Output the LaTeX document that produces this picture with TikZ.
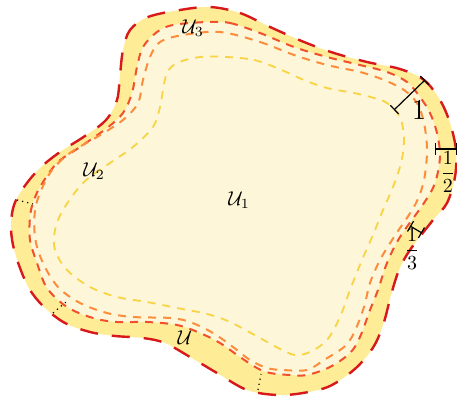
\documentclass[tikz,border=0pt]{standalone}
\usepackage{amsmath,amssymb}
\usepackage{xcolor}
\usepackage{tikz}
\usetikzlibrary{arrows.meta}
\definecolor{bandyellow}{HTML}{FFEC96}
\definecolor{coreyellow}{HTML}{FDF6D8}
\definecolor{edgered}{HTML}{D7191C}
\definecolor{thirdorange}{HTML}{F0502B}
\definecolor{halforange}{HTML}{FC8D3C}
\definecolor{oneyellow}{HTML}{F8D444}
\tikzset{
  outerline/.style={draw=edgered,line width=1.2pt,dash pattern=on 9pt off 7pt},
  thirdline/.style={draw=thirdorange,line width=1pt,dash pattern=on 4pt off 3.5pt},
  halfline/.style={draw=halforange,line width=1pt,dash pattern=on 4pt off 3.5pt},
  oneline/.style={draw=oneyellow,line width=0.9pt,dash pattern=on 4pt off 3.5pt},
  measurebar/.style={{Bar[width=6pt]}-{Bar[width=6pt]},line width=0.6pt},
  dotmark/.style={dotted,line width=0.6pt},
  regionlabel/.style={inner sep=1pt},
  blob/.style={smooth cycle,tension=0.55}
}
\begin{document}
\begin{tikzpicture}[x=0.5pt,y=-0.5pt]
  \useasboundingbox (0,0) rectangle (457,401);
  \fill[bandyellow] plot[blob] coordinates {
    (210,7) (240,13) (270,27) (304,42) (334,53) (367,62) (400,69) (424,80)
    (440,100) (450,123) (456,150) (455,177) (447,203) (433,220)
    (410,250) (399,270) (391,295) (384,322) (374,346) (356,368) (330,386)
    (303,393) (277,395) (247,390) (217,373) (190,357) (165,343) (143,338)
    (115,336) (90,332) (65,323) (45,308) (30,290) (20,268) (13,245) (11,225)
    (14,205) (24,187) (40,168) (60,152) (85,136) (106,120) (117,100) (120,75)
    (123,50) (130,30) (148,17) (180,10)};
  \fill[coreyellow] plot[blob] coordinates {
    (207,22) (230,23) (260,33) (294,47) (327,57) (360,65) (387,72) (407,82)
    (420,97) (430,113) (437,133) (440,157) (435,183) (424,203)
    (400,237) (387,263) (378,290) (370,310) (360,337) (350,353) (330,367)
    (307,375) (290,375) (270,373) (257,368) (240,357) (220,343) (200,333)
    (177,325) (147,322) (117,322) (93,318) (67,307) (47,288) (37,263) (30,240)
    (30,217) (33,203) (40,187) (57,163) (80,147) (107,128) (123,113) (132,93)
    (137,67) (143,47) (157,32) (173,25)};
  \draw[outerline] plot[blob] coordinates {
    (210,7) (240,13) (270,27) (304,42) (334,53) (367,62) (400,69) (424,80)
    (440,100) (450,123) (456,150) (455,177) (447,203) (433,220)
    (410,250) (399,270) (391,295) (384,322) (374,346) (356,368) (330,386)
    (303,393) (277,395) (247,390) (217,373) (190,357) (165,343) (143,338)
    (115,336) (90,332) (65,323) (45,308) (30,290) (20,268) (13,245) (11,225)
    (14,205) (24,187) (40,168) (60,152) (85,136) (106,120) (117,100) (120,75)
    (123,50) (130,30) (148,17) (180,10)};
  \draw[thirdline] plot[blob] coordinates {
    (207,22) (230,23) (260,33) (294,47) (327,57) (360,65) (387,72) (407,82)
    (420,97) (430,113) (437,133) (440,157) (435,183) (424,203)
    (400,237) (387,263) (378,290) (370,310) (360,337) (350,353) (330,367)
    (307,375) (290,375) (270,373) (257,368) (240,357) (220,343) (200,333)
    (177,325) (147,322) (117,322) (93,318) (67,307) (47,288) (37,263) (30,240)
    (30,217) (33,203) (40,187) (57,163) (80,147) (107,128) (123,113) (132,93)
    (137,67) (143,47) (157,32) (173,25)};
  \draw[halfline] plot[blob] coordinates {
    (220,32) (260,42) (294,55) (327,65) (360,72) (384,80) (404,90) (417,103)
    (424,123) (427,150) (424,180) (415,205) (394,237) (380,260)
    (370,283) (364,307) (354,333) (344,347) (324,360) (307,370) (283,370)
    (267,368) (250,360) (233,347) (213,333) (190,322) (170,318) (133,317)
    (107,313) (80,303) (58,287) (43,263) (35,237) (36,205) (50,173)
    (70,153) (97,137) (123,120) (138,103) (143,80) (150,57) (160,42) (183,35)};
  \draw[oneline] plot[blob] coordinates {
    (227,57) (254,60) (277,68) (304,80) (327,88) (354,93) (374,98) (387,103)
    (400,117) (404,140) (401,163) (393,187) (383,210) (373,235) (362,260)
    (350,290) (340,317) (327,340) (310,352) (295,355) (280,349) (260,338)
    (230,322) (207,314) (177,308) (147,302) (117,297) (90,287) (67,270)
    (55,250) (55,230) (63,210) (83,183) (110,163) (133,147) (153,127)
    (160,107) (163,90) (167,73) (177,63) (200,57)};
  \node[regionlabel] (u1) at (239,200) {$\mathcal{U}_1$};
  \node[regionlabel] (u2) at (94,171) {$\mathcal{U}_2$};
  \node[regionlabel] (u3) at (193,28) {$\mathcal{U}_3$};
  \node[regionlabel] (u) at (185,338) {$\mathcal{U}$};
  \coordinate (onea) at (425,80);
  \coordinate (oneb) at (394,110);
  \coordinate (halfa) at (435,149);
  \coordinate (halfb) at (457,149);
  \coordinate (thirda) at (410,226);
  \coordinate (thirdb) at (422,233);
  \draw[measurebar] (onea) -- (oneb);
  \draw[measurebar] (halfa) -- (halfb);
  \draw[measurebar] (thirda) -- (thirdb);
  \node[font=\Large] (onelabel) at (419,110) {$1$};
  \node (halflabel) at (448,172) {$\dfrac{1}{2}$};
  \node (thirdlabel) at (412,249) {$\dfrac{1}{3}$};
  \coordinate (dotla) at (17,200);
  \coordinate (dotlb) at (33,204);
  \coordinate (dotma) at (53,313);
  \coordinate (dotmb) at (66,302);
  \coordinate (dotra) at (258,390);
  \coordinate (dotrb) at (261,374);
  \draw[dotmark] (dotla) -- (dotlb);
  \draw[dotmark] (dotma) -- (dotmb);
  \draw[dotmark] (dotra) -- (dotrb);
\end{tikzpicture}
\end{document}
